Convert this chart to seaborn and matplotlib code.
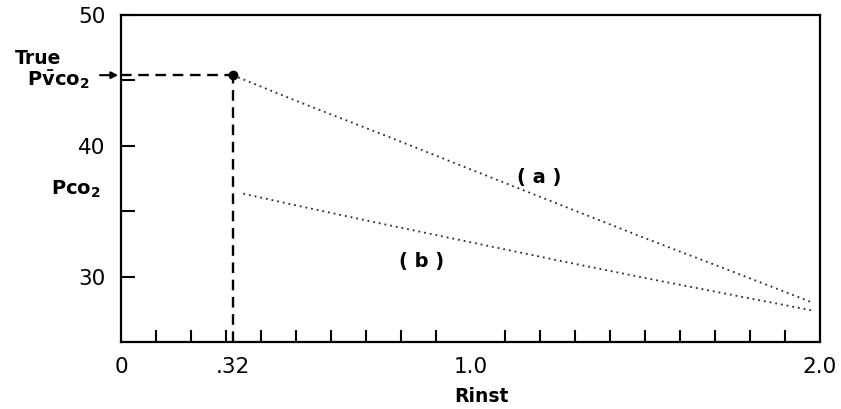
import matplotlib
matplotlib.use("Agg")
import matplotlib.pyplot as plt
import seaborn as sns
import pandas as pd

# ---- data ----
rinst_a = [0.32, 0.5, 0.75, 1.0, 1.25, 1.5, 1.75, 1.98]
pco2_a = [45.4, 43.45, 40.85, 38.2, 35.56, 32.93, 30.38, 28.0]
rinst_b = [0.35, 0.5, 0.75, 1.0, 1.25, 1.5, 1.75, 1.98]
pco2_b = [36.34, 35.45, 34.02, 32.63, 31.24, 29.89, 28.59, 27.4]
true_pv = 45.4
rinst_true = 0.32
xtick_pos = [0, 0.32, 1.0, 2.0]
xtick_lab = ["0", ".32", "1.0", "2.0"]
ytick_pos = [30, 35, 40, 45, 50]
ytick_lab = ["30", "", "40", "", "50"]
xminor = [0.1, 0.2, 0.3, 0.4, 0.5, 0.6, 0.7, 0.8, 0.9, 1.0,
          1.1, 1.2, 1.3, 1.4, 1.5, 1.6, 1.7, 1.8, 1.9]

sns.set_style("white")
plt.rcParams['font.family'] = ['DejaVu Sans']
plt.rcParams['text.color'] = 'black'
plt.rcParams['xtick.color'] = 'black'
plt.rcParams['ytick.color'] = 'black'
plt.rcParams['axes.labelcolor'] = 'black'

df_a = pd.DataFrame({"Rinst": rinst_a, "Pco2": pco2_a})
df_b = pd.DataFrame({"Rinst": rinst_b, "Pco2": pco2_b})

fig = plt.figure(figsize=(8.41, 4.09), dpi=100)
ax = fig.add_axes([121/841, 1-342/409, (820-121)/841, (342-15)/409])

dot_style = (0, (1, 2.2))
sns.lineplot(data=df_a, x="Rinst", y="Pco2", ax=ax, color="#2a2a2a",
             linewidth=1.3, linestyle=dot_style)
sns.lineplot(data=df_b, x="Rinst", y="Pco2", ax=ax, color="#2a2a2a",
             linewidth=1.3, linestyle=dot_style)

# dashed guide lines
dash = (0, (4.5, 2.8))
ax.plot([0, rinst_true], [true_pv, true_pv], color="black", lw=1.7, linestyle=dash)
ax.plot([rinst_true, rinst_true], [25, true_pv], color="black", lw=1.7, linestyle=dash)
ax.plot([rinst_true], [true_pv], "o", color="black", markersize=6)

ax.set_xlim(0, 2.0)
ax.set_ylim(25, 50)

ax.set_xticks(xtick_pos)
ax.set_xticklabels(xtick_lab)
ax.set_xticks(xminor, minor=True)
ax.tick_params(axis="x", which="both", bottom=True)
ax.tick_params(axis="y", which="both", left=True)
ax.tick_params(axis="x", which="major", length=0, pad=11, labelsize=15.5,
               labelcolor="black")
ax.tick_params(axis="x", which="minor", direction="in", length=9, width=1.5,
               color="black")
ax.set_yticks(ytick_pos)
ax.set_yticklabels(ytick_lab)
ax.tick_params(axis="y", which="major", direction="in", length=10, width=1.5,
               pad=11, labelsize=15.5, color="black", labelcolor="black")
for s in ax.spines.values():
    s.set_visible(True)
    s.set_color("black")
    s.set_linewidth(1.6)
ax.set_xlabel("")
ax.set_ylabel("")

# texts
fig.text(481/841, 1-396/409, "Rinst", ha="center", va="center",
         fontsize=13.5, fontweight="bold", color="black")
fig.text(38/841, 1-59/409, "True", ha="center", va="center",
         fontsize=13.5, fontweight="bold", color="black")
fig.text(58/841, 1-80/409, r"$\mathbf{P\bar{v}co_{2}}$", ha="center", va="center",
         fontsize=14, color="black")
fig.text(76/841, 1-189/409, r"$\mathbf{Pco_{2}}$", ha="center", va="center",
         fontsize=14, color="black")
fig.text(539/841, 1-177/409, "( a )", ha="center", va="center",
         fontsize=14, fontweight="bold", color="black")
fig.text(422/841, 1-262/409, "( b )", ha="center", va="center",
         fontsize=14, fontweight="bold", color="black")

ax.annotate("", xy=(-0.008, true_pv), xytext=(-0.06, true_pv),
            annotation_clip=False,
            arrowprops=dict(arrowstyle="-|>", lw=1.5, color="black",
                            mutation_scale=10, shrinkA=0, shrinkB=0))

fig.savefig("out.png", dpi=100)
